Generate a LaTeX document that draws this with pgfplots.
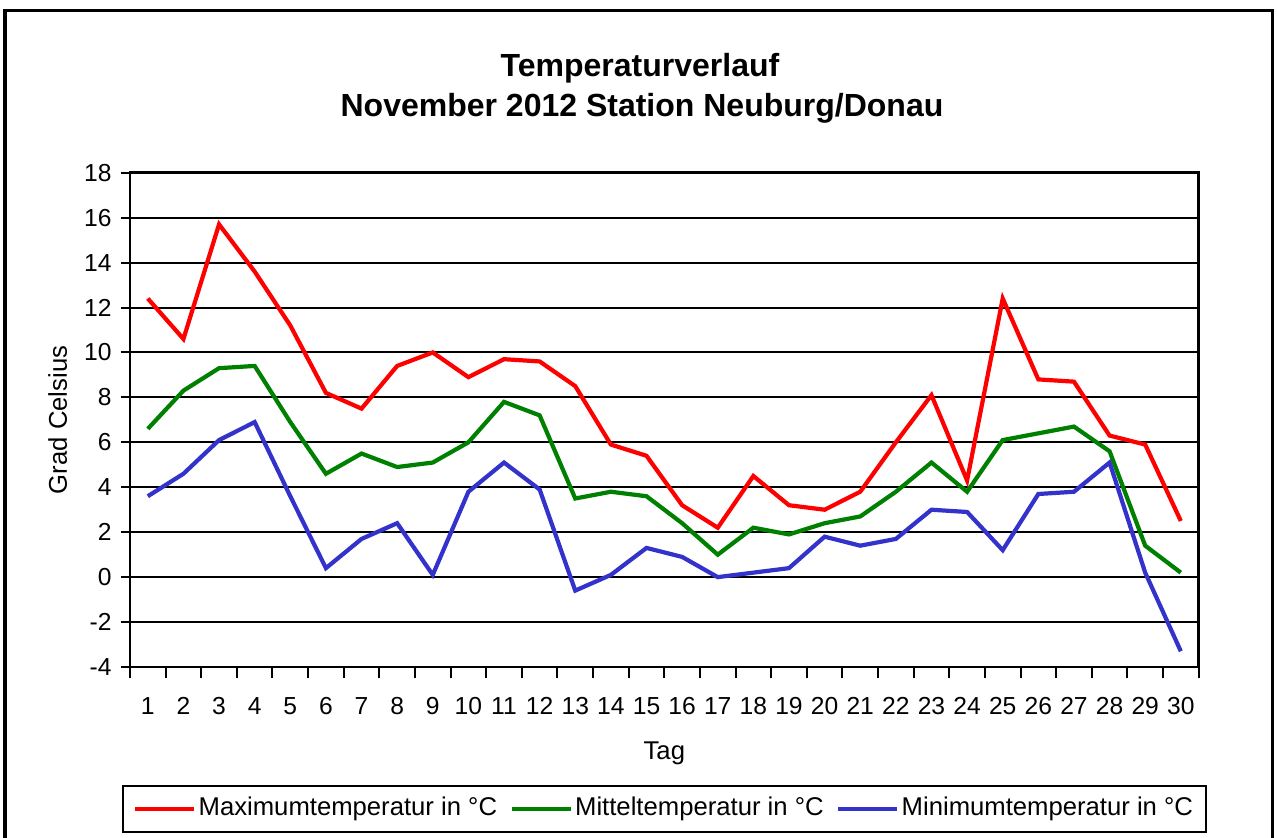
\documentclass[border=0pt]{standalone}
\usepackage{fontspec}
\setmainfont{Liberation Sans}
\usepackage{pgfplots}
\pgfplotsset{compat=1.18}
\usepackage{pgfplotstable}

\definecolor{maxred}{RGB}{255,0,0}
\definecolor{midgreen}{RGB}{0,128,0}
\definecolor{minblue}{RGB}{51,51,204}

% Tag Max Mittel Min
\pgfplotstableread{
tag max mit min
1 12.4 6.6 3.6
2 10.6 8.3 4.6
3 15.7 9.3 6.1
4 13.6 9.4 6.9
5 11.2 6.9 3.6
6 8.2 4.6 0.4
7 7.5 5.5 1.7
8 9.4 4.9 2.4
9 10.0 5.1 0.1
10 8.9 6.0 3.8
11 9.7 7.8 5.1
12 9.6 7.2 3.9
13 8.5 3.5 -0.6
14 5.9 3.8 0.1
15 5.4 3.6 1.3
16 3.2 2.4 0.9
17 2.2 1.0 0.0
18 4.5 2.2 0.2
19 3.2 1.9 0.4
20 3.0 2.4 1.8
21 3.8 2.7 1.4
22 6.0 3.8 1.7
23 8.1 5.1 3.0
24 4.3 3.8 2.9
25 12.4 6.1 1.2
26 8.8 6.4 3.7
27 8.7 6.7 3.8
28 6.3 5.6 5.1
29 5.9 1.4 0.2
30 2.5 0.2 -3.3
}\temps

\begin{document}
% 1 unit = 1 px of the reference, y measured from the bottom
\begin{tikzpicture}[x=0.01cm,y=0.01cm]
\useasboundingbox (0,0) rectangle (1277,837);
\begin{scope}
\clip (0,0) rectangle (1277,837);
\draw[line width=0.03cm] (5,-30) rectangle (1272,826);
\end{scope}
\node[font=\fontsize{9.1}{11}\selectfont\bfseries] at (640,769) {Temperaturverlauf};
\node[font=\fontsize{9.1}{11}\selectfont\bfseries] at (642,729) {November 2012 Station Neuburg/Donau};
\coordinate (origin) at (130,170);
\begin{axis}[
  at={(origin)}, anchor=south west,
  scale only axis, width=10.68cm, height=4.94cm,
  xmin=0.5, xmax=30.5, ymin=-4, ymax=18,
  xtick={1,...,30}, major x tick style={draw=none},
  minor xtick={0.5,1.5,...,30.5},
  ytick={-4,-2,...,18},
  tick align=outside, xtick pos=bottom, ytick pos=left,
  major tick length=0.09cm, minor tick length=0.11cm,
  every tick/.style={black, line width=0.02cm},
  ymajorgrids, grid style={black, line width=0.02cm},
  axis line style={black, line width=0.025cm},
  ticklabel style={font=\fontsize{7}{8}\selectfont},
  /pgf/number format/assume math mode=true,
  xticklabel style={yshift=-0.09cm},
  yticklabel style={xshift=0.03cm},
  xlabel={Tag}, ylabel={Grad Celsius},
  xlabel shift=0.03cm,
  ylabel shift=-0.07cm,
  label style={font=\fontsize{7.3}{9}\selectfont},
  legend columns=3,
  legend style={at={(0.5,-0.2874)}, anchor=center, draw=black, line width=0.02cm,
    font=\fontsize{7.3}{9}\selectfont, inner xsep=0.1cm, inner ysep=0.04cm,
    nodes={inner xsep=0.025cm},
    /tikz/every even column/.append style={column sep=0.1cm}},
  legend image code/.code={\draw[#1, line width=0.04cm] (0cm,0cm) -- (0.59cm,0cm);},
]
\addplot[maxred, line width=0.042cm] table[x=tag, y=max] {\temps};
\addlegendentry{Maximumtemperatur in °C}
\addplot[midgreen, line width=0.042cm] table[x=tag, y=mit] {\temps};
\addlegendentry{Mitteltemperatur in °C}
\addplot[minblue, line width=0.042cm] table[x=tag, y=min] {\temps};
\addlegendentry{Minimumtemperatur in °C}
\end{axis}
\end{tikzpicture}
\end{document}
